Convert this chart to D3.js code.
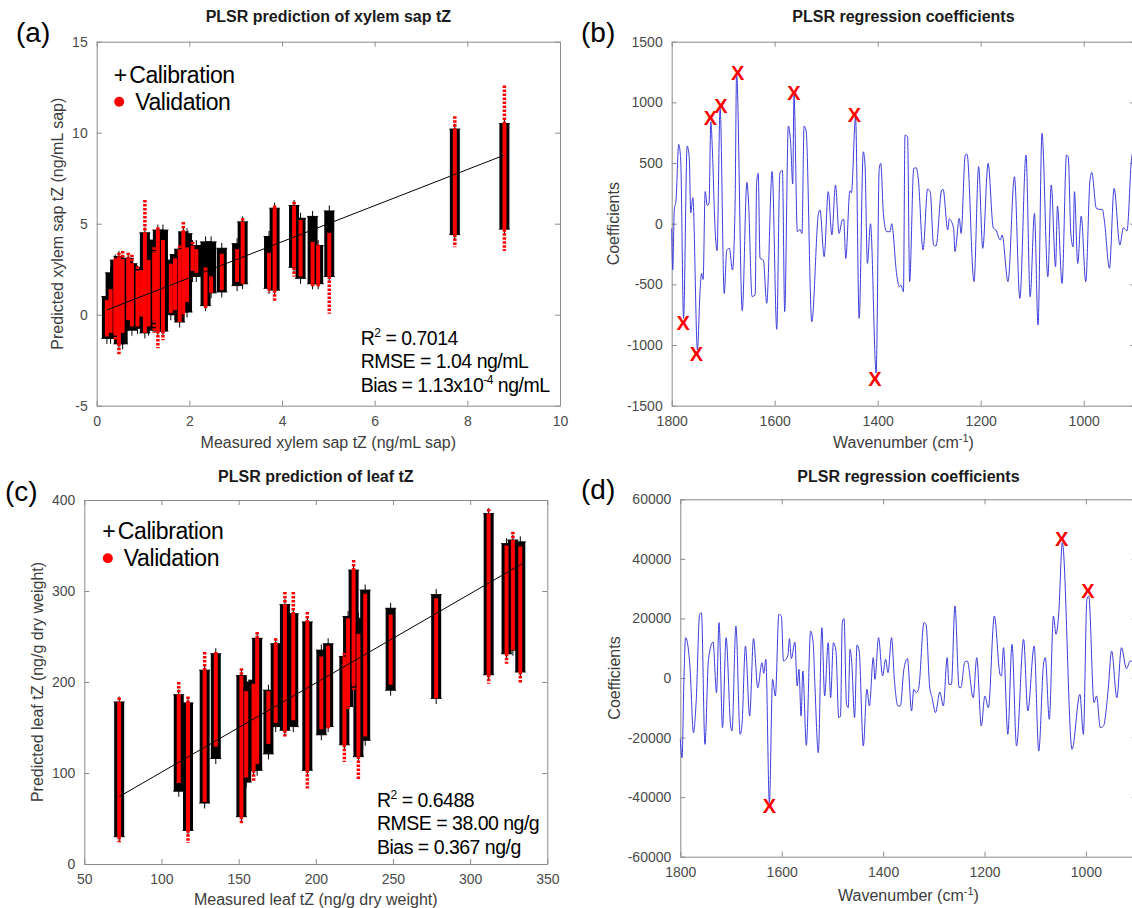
<!DOCTYPE html>
<html>
<head>
<meta charset="utf-8">
<script src="https://cdn.jsdelivr.net/npm/d3@7"></script>
<style>
  body { margin: 0; background: #fff; }
  svg { display: block; }
</style>
</head>
<body>
<script>
// ---------------- data ----------------

// (a) xylem sap tZ: measured value, calibration range, validation range
var measA   = [0.22, 0.30, 0.40, 0.48, 0.56, 0.68, 0.76, 0.88, 0.96, 1.04, 1.12, 1.24, 1.32, 1.43, 1.60, 1.69, 1.79, 1.87, 1.95, 2.07, 2.15, 2.35, 2.47, 2.70, 3.03, 3.15, 3.72, 3.84, 4.26, 4.40, 4.66, 4.78, 5.02, 7.73, 8.80];
var calLoA  = [-1.3, -1.3, -1.0, -1.6, -1.6, -0.6, -0.85, -0.75, -0.3, -1.0, -0.85, -0.3, -0.9, -0.9, 0.0, 0.0, -0.4, 0.15, 0.15, 2.1, 2.1, 0.5, 1.2, 1.25, 1.6, 1.7, 1.45, 1.35, 2.6, 2.0, 1.7, 1.7, 2.1, 4.4, 4.7];
var calHiA  = [1.0, 2.3, 3.0, 3.2, 3.0, 3.1, 2.8, 2.4, 2.6, 4.5, 4.1, 3.4, 4.65, 4.65, 3.0, 3.3, 3.6, 4.55, 4.45, 3.8, 3.8, 4.0, 4.0, 3.65, 3.9, 5.1, 4.3, 5.85, 6.0, 5.3, 5.4, 3.8, 5.7, 10.2, 10.5];
var valLoA  = [-1.2, -1.0, -1.4, -2.2, -1.0, -0.3, -0.65, -0.65, -0.1, -1.0, -0.65, -1.0, -1.85, -1.4, 0.1, 0.25, -0.4, -0.1, 0.7, 2.4, 2.3, 0.35, 1.2, 1.35, 1.8, 1.7, 1.2, 0.7, 2.1, 2.1, 1.55, 1.55, 0.05, 3.7, 3.5];
var valHiA  = [0.8, 1.4, 3.1, 3.4, 3.5, 3.4, 3.3, 2.65, 2.45, 6.3, 3.0, 3.7, 4.8, 4.1, 2.8, 3.1, 3.8, 5.1, 3.7, 4.0, 3.6, 2.6, 2.1, 3.35, 3.6, 5.3, 3.4, 6.0, 6.2, 5.2, 4.0, 3.85, 4.5, 10.9, 12.6];
var fitXA = [0.22, 8.8], fitYA = [0.26, 8.77];

// (c) leaf tZ
var measC   = [72.6, 111.2, 117.2, 128, 135.2, 151.8, 154.9, 159.7, 162, 169.3, 174, 180, 185.4, 194.5, 203.6, 208, 218.5, 220.9, 224.5, 227.6, 232, 248.5, 278, 312, 323.6, 327.7, 332.5];
var calLoC  = [30, 80, 37, 67, 116, 52, 90, 103, 103, 121, 151, 147, 151, 103, 142, 151, 131, 173, 198, 118, 136, 191, 182, 208, 231, 235, 211];
var calHiC  = [178, 186, 177, 213, 231, 207, 200, 202, 248, 191, 242, 285, 275, 266, 235, 242, 228, 272, 323, 270, 301, 281, 296, 385, 352, 356, 354];
var valLoC  = [24, 89, 23, 68, 129, 43, 95, 91, 110, 132, 155, 140, 158, 83, 148, 149, 112, 169, 191, 92, 140, 197, 182, 198, 220, 235, 198];
var valHiC  = [183, 200, 184, 233, 233, 215, 190, 198, 255, 190, 248, 299, 299, 277, 228, 240, 232, 270, 334, 253, 297, 274, 292, 390, 350, 365, 349];
var fitXC = [72.6, 333.7], fitYC = [74, 330];

// (b) regression coefficients, xylem sap model
var wnB = [1800, 1798, 1795, 1791.6, 1786.4, 1782.5, 1777, 1770, 1766, 1763, 1759, 1750, 1745, 1742, 1739, 1735, 1731, 1727.5, 1724, 1721, 1716, 1712, 1706, 1698, 1693, 1688, 1682, 1677, 1674, 1663, 1654, 1651, 1644, 1638, 1635, 1632, 1628.5, 1622, 1615.5, 1605, 1596, 1590, 1585, 1580.6, 1573.5, 1569, 1565, 1562.5, 1556, 1551, 1547, 1543, 1539, 1528, 1515, 1512, 1504, 1496, 1489, 1482, 1475, 1469, 1466, 1462, 1454, 1451, 1443, 1436, 1428, 1424.7, 1420, 1414, 1403, 1397, 1394, 1389, 1382.5, 1376, 1373, 1363, 1358, 1355, 1350, 1347, 1342, 1338, 1330, 1325, 1321, 1312, 1303, 1298, 1291.5, 1286.7, 1275.8, 1273, 1264, 1261, 1252.6, 1250, 1241.6, 1238, 1230, 1226.6, 1213, 1204, 1196, 1185.7, 1175.4, 1170.6, 1162, 1158.4, 1147, 1134.5, 1124, 1112, 1104, 1095.6, 1088.7, 1081, 1069.6, 1063, 1054.6, 1051, 1042, 1033.4, 1030, 1025, 1020.5, 1018, 1011.6, 1004.8, 996, 987.8, 984.3, 975.4, 968.6, 963.8, 960, 950, 941, 929.7, 923, 916, 907, 900];
var coefB = [-40, -380, 113, 195, 654, 525, -780, 640, 550, 90, 215, -1040, -560, -410, -460, 265, 150, 170, 840, 607, -25, -222, 960, -575, -217, -203, -382, 140, 1240, -717, 340, 195, -600, -588, 346, 415, -285, -300, -656, 430, -870, 415, 440, -725, 805, 662, 327, 1060, -66, -47, -80, 805, 766, -808, 85, 113, -272, 264, -93, 319, -80, 30, 36, -286, 272, 255, 880, -780, 593, 492, -327, 0, -1230, 456, 497, 85, -66, -66, 0, -423, -520, -505, -560, 730, 717, -478, 456, 461, 360, -217, 286, 264, -176, -184, 277, 283, -52, 38, -38, -230, 44, -80, 566, 574, -478, 470, -203, 497, -38, -52, -135, -93, -478, 387, -615, 566, -602, 85, -835, 745, -437, 319, -354, 146, -492, 566, 552, -80, -190, 264, -327, 63, -478, 360, 423, 126, 118, 118, 30, -368, 291, -176, -33, -60, 538, 650];
var markWnB   = [1777.5, 1752, 1725, 1704.4, 1672, 1562.5, 1445, 1405.5];
var markCoefB = [-816, -1069, 876, 970, 1244, 1080, 901, -1275];

// (d) regression coefficients, leaf model
var wnD = [1800, 1796.5, 1793, 1789.6, 1786, 1781, 1774, 1768.8, 1761.8, 1758.3, 1751.4, 1744.4, 1735.4, 1728.5, 1723.6, 1716.7, 1709.7, 1700.7, 1698, 1690.3, 1682, 1678.5, 1671.5, 1663.2, 1655.6, 1647.2, 1638.9, 1635.4, 1631.3, 1624.3, 1618, 1612.5, 1605.6, 1600.7, 1596.5, 1588, 1584.7, 1581, 1574, 1569.4, 1566, 1561.8, 1558.3, 1551.4, 1543, 1538, 1534.7, 1527.8, 1520.8, 1515.3, 1508.3, 1503.5, 1498, 1493, 1487.5, 1484, 1480.5, 1477, 1472.2, 1468.8, 1465.3, 1461.8, 1456.3, 1451.4, 1447.2, 1439, 1432, 1427, 1419.4, 1416, 1409, 1401, 1395, 1390.3, 1383.3, 1377.8, 1370.8, 1366, 1359, 1352, 1343.8, 1339.6, 1334.7, 1329.9, 1319.4, 1315.3, 1308.3, 1303.5, 1296.5, 1288.2, 1281.2, 1273.6, 1270.1, 1265.3, 1258.3, 1250, 1246.5, 1239, 1234, 1222.2, 1215.3, 1206.3, 1199.3, 1192.4, 1180.6, 1169.4, 1166.7, 1162.5, 1154, 1145.8, 1136.8, 1122.9, 1114.6, 1102, 1093, 1083.3, 1080, 1072.2, 1064, 1059, 1053.5, 1046.5, 1027.3, 1011.8, 1005, 998, 994.4, 984, 979, 971.5, 965.3, 956.3, 949.3, 938.9, 929.9, 920, 912.5, 900];
var coefD = [-20600, -26750, -1570, 13545, 11865, 4030, -18360, -8280, 21380, 21940, -22276, 6270, 12090, -4925, 18580, -16680, 13545, -16120, -17800, 17460, -18920, -16120, 10745, -12760, 13210, -3246, 5150, 1567, 6270, -42000, -448, -6045, 21380, 20820, 5710, 7390, 13210, 6490, 12090, -2690, 2910, -12760, 2350, -22610, 15780, 11865, -1570, -25075, 16900, -6045, 11865, -6600, 11865, 9067, -13320, -12760, 18580, 19925, -8840, -9960, 9627, 5150, -13320, 11080, 9067, -22835, -3806, -9400, 6830, -448, 13545, 672, 6270, 1790, 13545, -448, -9400, -9400, 2910, 6490, -11080, -3806, -4925, -3580, 18580, 18020, -2690, -6600, -11640, -4700, -9400, 6830, -2127, -2127, 24180, -3246, -3246, 5370, 5710, -6600, 6830, -16120, -6045, -9960, 20820, 1230, 672, 10190, -18920, 11300, -22835, 12985, -11080, 10745, -24515, 5150, 6830, -13880, 20820, 14665, 21940, 45450, -23955, -5485, -18920, 26420, 27540, -8280, -6045, -16680, -16120, -4365, 9067, -6600, 10190, 3134, 5710, 4000];
var markWnD   = [1624.3, 1047.9, 995.8];
var markCoefD = [-42760, 46570, 29220];

// tick values
var ticksXA = [0, 2, 4, 6, 8, 10],             ticksYA = [-5, 0, 5, 10, 15];
var ticksXC = [50, 100, 150, 200, 250, 300, 350], ticksYC = [0, 100, 200, 300, 400];
var ticksXS = [1800, 1600, 1400, 1200, 1000];
var ticksYB = [-1500, -1000, -500, 0, 500, 1000, 1500];
var ticksYD = [-60000, -40000, -20000, 0, 20000, 40000, 60000];

// ---------------- drawing ----------------
var FONT = "'Liberation Sans', Arial, sans-serif";
var svg = d3.select("body").append("svg").attr("width", 1132).attr("height", 908);

function plain(d) { return String(d); }

// MATLAB-like box: inward ticks on all four sides, labels bottom and left
function drawFrame(g, x, y, w, h, xt, yt) {
    var axes = [
        g.append("g").attr("transform", "translate(0," + h + ")")
            .call(d3.axisBottom(x).tickValues(xt).tickSizeInner(-5).tickSizeOuter(0).tickPadding(10).tickFormat(plain)),
        g.append("g")
            .call(d3.axisTop(x).tickValues(xt).tickSizeInner(-5).tickSizeOuter(0).tickFormat("")),
        g.append("g")
            .call(d3.axisLeft(y).tickValues(yt).tickSizeInner(-5).tickSizeOuter(0).tickPadding(9).tickFormat(plain)),
        g.append("g").attr("transform", "translate(" + w + ",0)")
            .call(d3.axisRight(y).tickValues(yt).tickSizeInner(-5).tickSizeOuter(0).tickFormat(""))
    ];
    axes.forEach(function(a) {
        a.attr("color", "#8c8c8c").attr("font-family", FONT).attr("font-size", 14);
        a.selectAll("text").attr("fill", "#4a4a4a");
    });
}

function panelText(g, w, h, o) {
    g.append("text")
        .attr("x", w / 2).attr("y", o.titleY)
        .attr("text-anchor", "middle")
        .attr("font-family", FONT).attr("font-weight", "bold").attr("font-size", 16)
        .attr("fill", "#1a1a1a")
        .text(o.title);

    var xl = g.append("text")
        .attr("x", w / 2).attr("y", h + o.xLabY)
        .attr("text-anchor", "middle")
        .attr("font-family", FONT).attr("font-size", 16)
        .attr("fill", "#3c3c3c");
    if (o.wave) {
        xl.append("tspan").text("Wavenumber (cm");
        xl.append("tspan").attr("font-size", 11).attr("dy", -6).text("-1");
        xl.append("tspan").attr("dy", 6).text(")");
    } else {
        xl.text(o.xLab);
    }

    g.append("text")
        .attr("transform", "translate(" + o.yLabX + "," + h / 2 + ") rotate(-90)")
        .attr("text-anchor", "middle").attr("dy", "0.35em")
        .attr("font-family", FONT).attr("font-size", 16)
        .attr("fill", "#3c3c3c")
        .text(o.yLab);

    svg.append("text")
        .attr("x", o.letterX).attr("y", o.letterY)
        .attr("font-family", FONT).attr("font-size", 28)
        .attr("fill", "#000")
        .text(o.letter);
}

function drawScatter(p) {
    var g = svg.append("g").attr("transform", "translate(" + p.left + "," + p.top + ")");
    var x = d3.scaleLinear().domain(p.xDomain).range([0, p.w]);
    var y = d3.scaleLinear().domain(p.yDomain).range([p.h, 0]);

    drawFrame(g, x, y, p.w, p.h, p.xt, p.yt);
    panelText(g, p.w, p.h, p);

    var plus = "M-5.5,0H5.5M0,-5.5V5.5";

    // calibration (black +, stacked into columns)
    var cal = g.append("g");
    p.meas.forEach(function(m, i) {
        cal.append("rect")
            .attr("x", x(m) - 5).attr("y", y(p.calHi[i]))
            .attr("width", 10).attr("height", y(p.calLo[i]) - y(p.calHi[i]))
            .attr("fill", "#000");
        [p.calLo[i], p.calHi[i]].forEach(function(v) {
            cal.append("path").attr("d", plus)
                .attr("transform", "translate(" + x(m) + "," + y(v) + ")")
                .attr("stroke", "#000").attr("stroke-width", 1);
        });
    });

    // validation (red dots): dense core inside the calibration column, sparse tails outside
    var val = g.append("g").attr("stroke", "#ff0000");
    p.meas.forEach(function(m, i) {
        var lo = p.valLo[i], hi = p.valHi[i];
        var coreLo = Math.max(lo, p.calLo[i]), coreHi = Math.min(hi, p.calHi[i]);
        if (coreHi > coreLo) {
            val.append("line")
                .attr("x1", x(m)).attr("x2", x(m))
                .attr("y1", y(coreHi)).attr("y2", y(coreLo))
                .attr("stroke-width", 4);
        }
        if (hi > p.calHi[i]) {
            val.append("line")
                .attr("x1", x(m)).attr("x2", x(m))
                .attr("y1", y(hi)).attr("y2", y(Math.max(p.calHi[i], lo)))
                .attr("stroke-width", 3.5).attr("stroke-dasharray", "2.5,1.5");
        }
        if (lo < p.calLo[i]) {
            val.append("line")
                .attr("x1", x(m)).attr("x2", x(m))
                .attr("y1", y(Math.min(p.calLo[i], hi))).attr("y2", y(lo))
                .attr("stroke-width", 3.5).attr("stroke-dasharray", "2.5,1.5");
        }
    });

    // fit line
    g.append("line")
        .attr("x1", x(p.fitX[0])).attr("y1", y(p.fitY[0]))
        .attr("x2", x(p.fitX[1])).attr("y2", y(p.fitY[1]))
        .attr("stroke", "#000").attr("stroke-width", 1);

    // legend
    var lg = g.append("g").attr("font-family", FONT).attr("font-size", 23).attr("letter-spacing", -0.4);
    lg.append("text").attr("x", p.legX).attr("y", p.legY).text("+");
    lg.append("text").attr("x", p.legX + 15.5).attr("y", p.legY).text("Calibration");
    lg.append("circle").attr("cx", p.legX + 5.5).attr("cy", p.legY + 19).attr("r", 5).attr("fill", "#ff0000");
    lg.append("text").attr("x", p.legX + 21.5).attr("y", p.legY + 27).text("Validation");

    // statistics
    var st = g.append("g").attr("font-family", FONT).attr("font-size", 19.5).attr("letter-spacing", -0.5);
    var r2 = st.append("text").attr("x", p.statX).attr("y", p.statY);
    r2.append("tspan").text("R");
    r2.append("tspan").attr("font-size", 12).attr("dy", -8).text("2");
    r2.append("tspan").attr("dy", 8).text(" = " + p.r2);
    st.append("text").attr("x", p.statX).attr("y", p.statY + 23.5).text("RMSE = " + p.rmse);
    var bs = st.append("text").attr("x", p.statX).attr("y", p.statY + 47);
    bs.append("tspan").text("Bias = " + p.bias[0]);
    if (p.bias.length > 1) {
        bs.append("tspan").attr("font-size", 12).attr("dy", -8).text(p.bias[1]);
        bs.append("tspan").attr("dy", 8).text(p.bias[2]);
    }
}

function drawSpectrum(p) {
    var g = svg.append("g").attr("transform", "translate(" + p.left + "," + p.top + ")");
    var x = d3.scaleLinear().domain([1800, 900]).range([0, p.w]);
    var y = d3.scaleLinear().domain(p.yDomain).range([p.h, 0]);

    drawFrame(g, x, y, p.w, p.h, ticksXS, p.yt);
    panelText(g, p.w, p.h, p);

    var line = d3.line()
        .curve(d3.curveMonotoneX)
        .x(function(d) { return x(d[0]); })
        .y(function(d) { return y(d[1]); });

    g.append("path")
        .datum(d3.zip(p.wn, p.coef))
        .attr("d", line)
        .attr("fill", "none")
        .attr("stroke", "#3d3ddd").attr("stroke-width", 1);

    g.selectAll(".mark")
        .data(d3.zip(p.markWn, p.markCoef))
        .enter().append("text")
            .attr("class", "mark")
            .attr("x", function(d) { return x(d[0]); })
            .attr("y", function(d) { return y(d[1]); })
            .attr("dy", "0.36em")
            .attr("text-anchor", "middle")
            .attr("font-family", FONT).attr("font-weight", "bold").attr("font-size", 20)
            .attr("fill", "#ff0000")
            .text("X");
}

drawScatter({
    left: 96.7, top: 41.7, w: 463.3, h: 364,
    xDomain: [0, 10], yDomain: [-5, 15], xt: ticksXA, yt: ticksYA,
    meas: measA, calLo: calLoA, calHi: calHiA, valLo: valLoA, valHi: valHiA,
    fitX: fitXA, fitY: fitYA,
    title: "PLSR prediction of xylem sap tZ", titleY: -19.7,
    xLab: "Measured xylem sap tZ (ng/mL sap)", xLabY: 42.6,
    yLab: "Predicted xylem sap tZ (ng/mL sap)", yLabX: -39,
    letter: "(a)", letterX: 16, letterY: 42,
    legX: 17, legY: 41, statX: 264, statY: 303,
    r2: "0.7014", rmse: "1.04 ng/mL", bias: ["1.13x10", "-4", " ng/mL"]
});

drawScatter({
    left: 84.3, top: 500, w: 463, h: 364,
    xDomain: [50, 350], yDomain: [0, 400], xt: ticksXC, yt: ticksYC,
    meas: measC, calLo: calLoC, calHi: calHiC, valLo: valLoC, valHi: valHiC,
    fitX: fitXC, fitY: fitYC,
    title: "PLSR prediction of leaf tZ", titleY: -18.5,
    xLab: "Measured leaf tZ (ng/g dry weight)", xLabY: 40.7,
    yLab: "Predicted leaf tZ (ng/g dry weight)", yLabX: -47,
    letter: "(c)", letterX: 5, letterY: 501,
    legX: 18, legY: 39.3, statX: 292.7, statY: 306.7,
    r2: "0.6488", rmse: "38.00 ng/g", bias: ["0.367 ng/g"]
});

drawSpectrum({
    left: 671.7, top: 41.7, w: 463.5, h: 364,
    yDomain: [-1500, 1500], yt: ticksYB,
    wn: wnB, coef: coefB, markWn: markWnB, markCoef: markCoefB,
    title: "PLSR regression coefficients", titleY: -19.7,
    wave: true, xLabY: 42.6,
    yLab: "Coefficients", yLabX: -58.7,
    letter: "(b)", letterX: 581, letterY: 42
});

drawSpectrum({
    left: 680.3, top: 499.3, w: 456.3, h: 357.4,
    yDomain: [-60000, 60000], yt: ticksYD,
    wn: wnD, coef: coefD, markWn: markWnD, markCoef: markCoefD,
    title: "PLSR regression coefficients", titleY: -17.8,
    wave: true, xLabY: 44,
    yLab: "Coefficients", yLabX: -66.3,
    letter: "(d)", letterX: 581, letterY: 499
});
</script>
</body>
</html>
